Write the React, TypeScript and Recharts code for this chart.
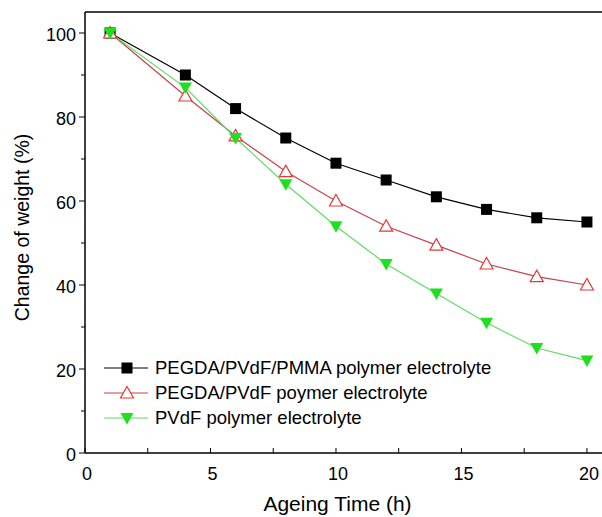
import { LineChart, Line, XAxis, YAxis, ReferenceLine } from 'recharts';

const hours = [1, 4, 6, 8, 10, 12, 14, 16, 18, 20];
const pegdaPvdfPmma = [100, 90, 82, 75, 69, 65, 61, 58, 56, 55];
const pegdaPvdf = [100, 85, 75.5, 67, 60, 54, 49.5, 45, 42, 40];
const pvdf = [100, 87, 75, 64, 54, 45, 38, 31, 25, 22];

const xTicks = [0, 2.5, 5, 7.5, 10, 12.5, 15, 17.5, 20];
const yTicks = [0, 10, 20, 30, 40, 50, 60, 70, 80, 90, 100];

const SERIES = [
    { key: 'a', name: 'PEGDA/PVdF/PMMA polymer electrolyte', line: '#000000', marker: 'square' },
    { key: 'b', name: 'PEGDA/PVdF poymer electrolyte', line: '#c8404a', marker: 'triangle' },
    { key: 'c', name: 'PVdF polymer electrolyte', line: '#5fdc5f', marker: 'down' },
];

const data = hours.map((h, i) => ({ h, a: pegdaPvdfPmma[i], b: pegdaPvdf[i], c: pvdf[i] }));

const FONT = 'Liberation Sans, Arial, sans-serif';

function Marker({ type, cx, cy }: { type: string; cx: number; cy: number }) {
    if (type === 'square') {
        return <rect x={cx - 5.5} y={cy - 5.5} width={11} height={11} fill="#000" />;
    }
    if (type === 'triangle') {
        return (
            <path
                d={`M${cx},${cy - 6.5} L${cx + 6.5},${cy + 5} L${cx - 6.5},${cy + 5} Z`}
                fill="#fff"
                stroke="#e03a3a"
                strokeWidth={1.2}
            />
        );
    }
    return <path d={`M${cx - 6.5},${cy - 5} L${cx + 6.5},${cy - 5} L${cx},${cy + 6.5} Z`} fill="#1ee01e" />;
}

const dot = (type: string) => (props: any) =>
    <Marker key={`${type}-${props.index}`} type={type} cx={props.cx} cy={props.cy} />;

function XTick({ x, y, payload }: any) {
    const major = payload.value % 5 === 0;
    return (
        <g>
            <line x1={x} y1={y} x2={x} y2={y - 5} stroke="#000" />
            {major && (
                <text x={x + 2} y={y + 27} textAnchor="middle" fontSize={18} fontFamily={FONT} fill="#000">
                    {payload.value}
                </text>
            )}
        </g>
    );
}

function YTick({ x, y, payload }: any) {
    const major = payload.value % 20 === 0;
    return (
        <g>
            <line x1={x} y1={y} x2={x - (major ? 6 : 4)} y2={y} stroke="#000" />
            {major && (
                <text x={x - 9} y={y + 8} textAnchor="end" fontSize={18} fontFamily={FONT} fill="#000">
                    {payload.value}
                </text>
            )}
        </g>
    );
}

function LegendBox() {
    return (
        <div style={{ position: 'absolute', left: 100, top: 355, fontFamily: FONT, fontSize: 18.5, color: '#000' }}>
            {SERIES.map((s) => (
                <div key={s.key} style={{ display: 'flex', alignItems: 'center', height: 25 }}>
                    <svg width={50} height={20}>
                        <line x1={4} y1={10} x2={48} y2={10} stroke={s.line} strokeWidth={1.2} />
                        <Marker type={s.marker} cx={27} cy={10} />
                    </svg>
                    <span style={{ marginLeft: 5 }}>{s.name}</span>
                </div>
            ))}
        </div>
    );
}

export default function App() {
    return (
        <div style={{ position: 'absolute', left: 0, top: 0, width: 602, height: 517, background: '#fff' }}>
            <LineChart width={602} height={517} data={data} margin={{ top: 12, right: 0, left: 0, bottom: 0 }}>
                <XAxis
                    dataKey="h"
                    type="number"
                    domain={[0, 20.6]}
                    ticks={xTicks}
                    tickLine={false}
                    tickSize={0}
                    tickMargin={0}
                    tick={<XTick />}
                    axisLine={{ stroke: '#000', strokeWidth: 1.5 }}
                    height={64}
                    interval={0}
                    allowDataOverflow
                    label={{ value: 'Ageing Time (h)', position: 'insideBottom', offset: 6, dx: -6, fontSize: 21, fontFamily: FONT, fill: '#000' }}
                />
                <YAxis
                    type="number"
                    domain={[0, 105]}
                    ticks={yTicks}
                    tickLine={false}
                    tickSize={0}
                    tickMargin={0}
                    tick={<YTick />}
                    axisLine={{ stroke: '#000', strokeWidth: 1.5 }}
                    width={85}
                    interval={0}
                    allowDataOverflow
                    label={{ value: 'Change of weight (%)', angle: -90, position: 'insideLeft', offset: 22, dy: -5, fontSize: 19.5, fontFamily: FONT, fill: '#000', style: { textAnchor: 'middle' } }}
                />
                <ReferenceLine y={105} stroke="#000" strokeWidth={1.5} />
                {SERIES.map((s) => (
                    <Line
                        key={s.key}
                        dataKey={s.key}
                        name={s.name}
                        type="linear"
                        stroke={s.line}
                        strokeWidth={1.2}
                        dot={dot(s.marker)}
                        activeDot={false}
                        isAnimationActive={false}
                    />
                ))}
            </LineChart>
            <LegendBox />
        </div>
    );
}
